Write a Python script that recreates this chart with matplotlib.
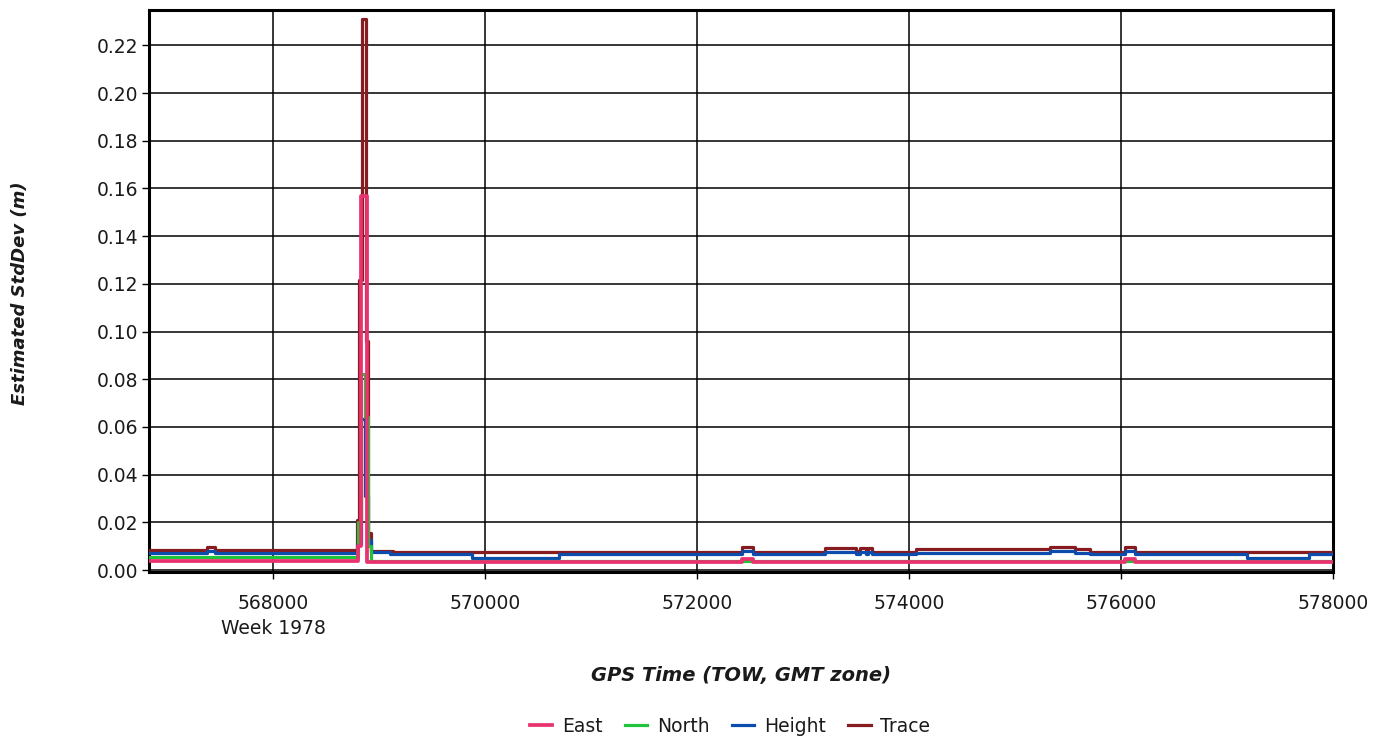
import numpy as np
import matplotlib.pyplot as plt

# dane: czas (TOW, s) i odchylenia (m), schodkowo
t_trace = [566830, 567380, 567450, 568790, 568815, 568840, 568880, 568900, 568920, 569130,
           572420, 572530, 573210, 573500, 573540, 573590, 573615, 573650, 574070,
           575330, 575570, 575710, 576040, 576130, 578000]
v_trace = [0.0084, 0.0095, 0.0084, 0.021, 0.1215, 0.231, 0.096, 0.0157, 0.0082, 0.0077,
           0.0095, 0.0077, 0.0091, 0.0080, 0.0091, 0.0080, 0.0091, 0.0077, 0.0087,
           0.0098, 0.0088, 0.0077, 0.0098, 0.0077, 0.0077]

t_height = [566830, 567380, 567450, 568790, 568830, 568870, 568895, 568925, 569100, 569880,
            570700, 572420, 572530, 573210, 573500, 573540, 573590, 573615, 573650, 574070,
            575330, 575570, 575710, 576040, 576130, 577190, 577770, 578000]
v_height = [0.0070, 0.0080, 0.0070, 0.011, 0.0635, 0.031, 0.0126, 0.0074, 0.0066, 0.0052,
            0.0066, 0.0082, 0.0066, 0.0077, 0.0066, 0.0077, 0.0066, 0.0077, 0.0066, 0.0073,
            0.0081, 0.0073, 0.0066, 0.0080, 0.0066, 0.0052, 0.0066, 0.0066]

t_north = [566830, 568800, 568830, 568870, 568900, 568925, 578000]
v_north = [0.0053, 0.020, 0.082, 0.064, 0.010, 0.0037, 0.0037]

t_east = [566830, 568805, 568828, 568885, 572420, 572530, 576040, 576130, 578000]
v_east = [0.0038, 0.010, 0.157, 0.0036, 0.0048, 0.0036, 0.0048, 0.0036, 0.0036]

y_ticks = np.arange(0, 0.23, 0.02)
x_ticks = [568000, 570000, 572000, 574000, 576000, 578000]

kolory = {'East': '#e8336e', 'North': '#1fc43a', 'Height': '#0b4cad', 'Trace': '#861c1f'}
txt = '#1a1a1a'
fs = 13.5

plt.rcParams['font.family'] = ['DejaVu Sans']

fig = plt.figure(figsize=(13.87, 7.4), dpi=100)
ax = fig.add_axes([149/1387, 1 - 572/740, (1333-149)/1387, (572-10)/740])

lw = 2.3
lt, = ax.plot(t_trace, v_trace, drawstyle='steps-post', color=kolory['Trace'], lw=lw, zorder=3)
lh, = ax.plot(t_height, v_height, drawstyle='steps-post', color=kolory['Height'], lw=lw, zorder=4)
ln, = ax.plot(t_north, v_north, drawstyle='steps-post', color=kolory['North'], lw=lw, zorder=5)
le, = ax.plot(t_east, v_east, drawstyle='steps-post', color=kolory['East'], lw=lw + 0.4, zorder=6)

ax.set_xlim(566830, 578000)
ax.set_ylim(-0.0008, 0.2348)
ax.set_yticks(y_ticks)
ax.set_yticklabels(['%.2f' % v for v in y_ticks])
ax.set_xticks(x_ticks)
ax.set_xticklabels([str(v) for v in x_ticks])
ax.grid(True, color='black', lw=1.1)
ax.set_axisbelow(True)
for s in ax.spines.values():
    s.set_linewidth(2.2)
ax.tick_params(axis='both', colors='black', labelcolor=txt, labelsize=fs, length=5, width=1)
ax.tick_params(axis='x', pad=11)
ax.tick_params(axis='y', pad=3)

ax.text(568000, -0.101, 'Week 1978', transform=ax.get_xaxis_transform(),
        ha='center', va='center', fontsize=fs, color=txt)

fig.text(741/1387, 1 - 676/740, 'GPS Time (TOW, GMT zone)', ha='center', va='center',
         fontsize=fs + 0.5, fontweight='bold', fontstyle='italic', color=txt)
fig.text(20/1387, 1 - 293/740, 'Estimated StdDev (m)', ha='center', va='center', rotation=90,
         fontsize=fs - 0.5, fontweight='bold', fontstyle='italic', color=txt)

fig.legend([le, ln, lh, lt], ['East', 'North', 'Height', 'Trace'], loc='center',
           bbox_to_anchor=(730/1387, 1 - 726/740), ncol=4, frameon=False,
           fontsize=fs, handlelength=1.2, columnspacing=1.2, handletextpad=0.5,
           labelcolor=txt)

fig.savefig('out.png', dpi=100)
